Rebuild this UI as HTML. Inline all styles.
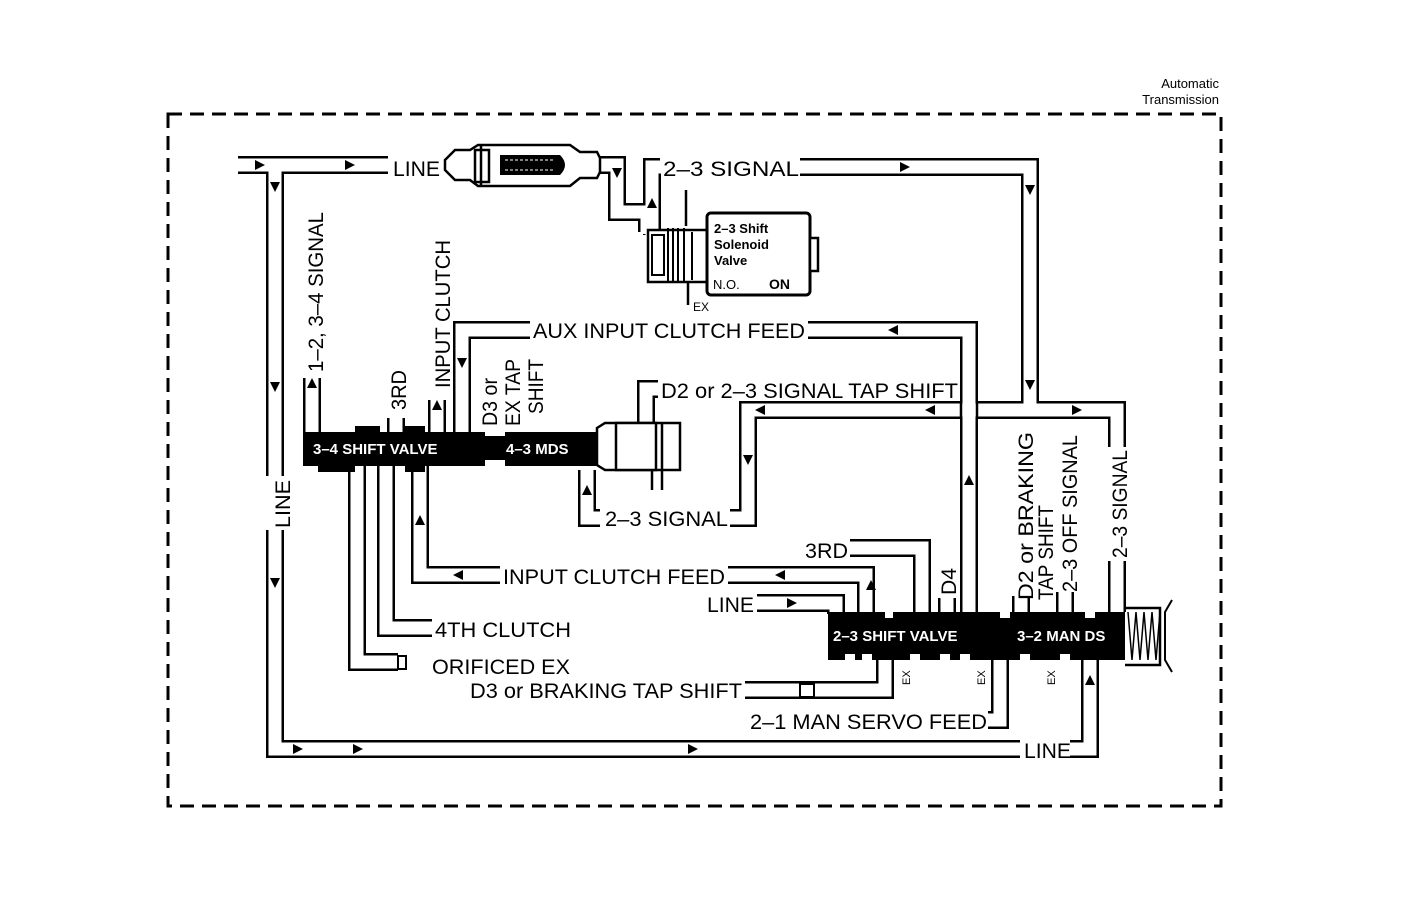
<!DOCTYPE html>
<html><head><meta charset="utf-8"><style>
html,body{margin:0;padding:0;background:#fff;}
svg{display:block;}
text{font-family:"Liberation Sans",Arial,sans-serif;fill:#000;}
.l{font-size:21px;}
.w{fill:#fff;font-weight:bold;font-size:15px;}
</style></head><body>
<svg width="1408" height="920" viewBox="0 0 1408 920" xmlns="http://www.w3.org/2000/svg">
<rect width="1408" height="920" fill="#fff"/>
<rect x="168" y="114" width="1053" height="692" fill="none" stroke="#000" stroke-width="3" stroke-dasharray="14 8"/>
<text x="1219" y="88" font-size="13" text-anchor="end">Automatic</text>
<text x="1219" y="104" font-size="13" text-anchor="end">Transmission</text>

<g fill="none" stroke="#000" stroke-width="18" stroke-linejoin="miter" stroke-linecap="butt">
<path d="M238,165 H388"/>
<path d="M275,165 V749 H1020"/>
<path d="M1070,749 H1090 V660"/>
<path d="M598,165 H617 V212 H647 V232"/>
<path d="M652,235 V167 H660"/>
<path d="M800,167 H1030 V410 H1117 V612"/>
<path d="M1030,410 H748 V518 H730"/>
<path d="M600,518 H587 V470"/>
<path d="M808,330 H969 V612"/>
<path d="M530,330 H462 V432"/>
<path d="M658,389 H646 V424"/>
<path d="M312,378 V432"/>
<path d="M437,400 V432"/>
<path d="M396,418 V432"/>
<path d="M357,466 V662 H398"/>
<path d="M386,466 V628 H432"/>
<path d="M420,466 V575 H500"/>
<path d="M728,575 H866 V612"/>
<path d="M850,548 H922 V612"/>
<path d="M757,603 H836 V614"/>
<path d="M947,598 V612"/>
<path d="M1021,596 V612"/>
<path d="M1065,592 V612"/>
<path d="M745,690 H885 V660"/>
<path d="M988,720 H1000 V660"/>
</g>
<g fill="none" stroke="#fff" stroke-width="13" stroke-linejoin="miter" stroke-linecap="butt">
<path d="M236,165 H390"/>
<path d="M275,165 V749 H1022"/>
<path d="M1068,749 H1090 V658"/>
<path d="M596,165 H617 V212 H647 V234"/>
<path d="M652,237 V167 H662"/>
<path d="M798,167 H1030 V410 H1117 V614"/>
<path d="M1030,410 H748 V518 H728"/>
<path d="M602,518 H587 V468"/>
<path d="M806,330 H969 V614"/>
<path d="M532,330 H462 V434"/>
<path d="M660,389 H646 V426"/>
<path d="M312,376 V434"/>
<path d="M437,398 V434"/>
<path d="M396,416 V434"/>
<path d="M357,464 V662 H400"/>
<path d="M386,464 V628 H434"/>
<path d="M420,464 V575 H502"/>
<path d="M726,575 H866 V614"/>
<path d="M848,548 H922 V614"/>
<path d="M755,603 H836 V616"/>
<path d="M947,596 V614"/>
<path d="M1021,594 V614"/>
<path d="M1065,590 V614"/>
<path d="M743,690 H885 V658"/>
<path d="M986,720 H1000 V658"/>
</g>
<line x1="961" y1="401" x2="961" y2="419" stroke="#000" stroke-width="2.5"/>
<line x1="977" y1="401" x2="977" y2="419" stroke="#000" stroke-width="2.5"/>

<path d="M445,160 L455,150 L470,150 L478,145 L570,145 L580,152 L597,152 L600,158 V172 L597,178 L580,178 L570,186 L478,186 L470,180 L455,180 L445,170 Z" fill="#fff" stroke="#000" stroke-width="2.5"/>
<rect x="475" y="150" width="14" height="32" fill="#fff" stroke="#000" stroke-width="2.5"/>
<line x1="481" y1="145" x2="481" y2="186" stroke="#000" stroke-width="2.5"/>
<path d="M500,155 H560 Q570,165 560,175 H500 Z" fill="#000"/>
<line x1="505" y1="160" x2="555" y2="160" stroke="#fff" stroke-dasharray="3 2"/>
<line x1="505" y1="170" x2="555" y2="170" stroke="#fff" stroke-dasharray="3 2"/>

<rect x="648" y="230" width="59" height="52" fill="#fff" stroke="#000" stroke-width="2.5"/>
<rect x="652" y="235" width="12" height="40" fill="#fff" stroke="#000" stroke-width="2"/>
<g stroke="#000" stroke-width="2"><line x1="668" y1="228" x2="668" y2="282"/><line x1="673" y1="228" x2="673" y2="282"/><line x1="678" y1="228" x2="678" y2="282"/><line x1="684" y1="228" x2="684" y2="282"/><line x1="692" y1="232" x2="692" y2="280"/></g>
<line x1="686" y1="190" x2="686" y2="226" stroke="#000" stroke-width="2.5"/>
<line x1="688" y1="282" x2="688" y2="305" stroke="#000" stroke-width="2.5"/>
<text x="693" y="311" font-size="12">EX</text>
<rect x="707" y="213" width="103" height="82" rx="4" fill="#fff" stroke="#000" stroke-width="3"/>
<rect x="810" y="238" width="8" height="33" fill="#fff" stroke="#000" stroke-width="2.5"/>
<text x="714" y="233" font-size="13" font-weight="bold">2–3 Shift</text>
<text x="714" y="249" font-size="13" font-weight="bold">Solenoid</text>
<text x="714" y="265" font-size="13" font-weight="bold">Valve</text>
<text x="713" y="289" font-size="13">N.O.</text>
<text x="769" y="289" font-size="14" font-weight="bold">ON</text>

<path d="M303,432 H355 V426 H380 V432 H405 V426 H425 V432 H600 V466 H425 V472 H405 V466 H355 V472 H318 V466 H303 Z" fill="#000"/>
<rect x="485" y="430" width="20" height="6" fill="#fff"/>
<rect x="485" y="460" width="20" height="6" fill="#fff"/>
<text x="313" y="454" class="w">3–4 SHIFT VALVE</text>
<text x="506" y="454" class="w">4–3 MDS</text>
<path d="M597,428 L605,423 H680 V470 H605 L597,465 Z" fill="#fff" stroke="#000" stroke-width="2.5"/>
<rect x="616" y="423" width="40" height="47" fill="#fff" stroke="#000" stroke-width="2.5"/>
<line x1="662" y1="423" x2="662" y2="470" stroke="#000" stroke-width="2.5"/>
<line x1="652" y1="470" x2="652" y2="490" stroke="#000" stroke-width="2.5"/>
<line x1="662" y1="470" x2="662" y2="490" stroke="#000" stroke-width="2.5"/>

<path d="M828,612 H1125 V660 H828 Z" fill="#000"/>
<g fill="#fff"><rect x="845" y="654" width="10" height="8"/><rect x="862" y="654" width="10" height="8"/><rect x="910" y="654" width="10" height="8"/><rect x="940" y="654" width="10" height="8"/><rect x="960" y="654" width="10" height="8"/><rect x="1020" y="654" width="10" height="8"/><rect x="1060" y="654" width="10" height="8"/><rect x="885" y="612" width="8" height="6"/><rect x="1000" y="612" width="10" height="6"/><rect x="1085" y="612" width="10" height="6"/></g>
<text x="833" y="641" class="w">2–3 SHIFT VALVE</text>
<text x="1017" y="641" class="w">3–2 MAN DS</text>
<path d="M1125,608 H1160 V665 H1125" fill="none" stroke="#000" stroke-width="2.5"/>
<path d="M1128,612 l4,48 l4,-48 l4,48 l4,-48 l4,48 l4,-48 l4,48 l4,-48" fill="none" stroke="#000" stroke-width="1.5"/>
<path d="M1172,600 L1165,612 V660 L1172,672" fill="none" stroke="#000" stroke-width="2"/>
<g font-size="11"><text transform="translate(910,685) rotate(-90)">EX</text><text transform="translate(985,685) rotate(-90)">EX</text><text transform="translate(1055,685) rotate(-90)">EX</text></g>

<rect x="398" y="656" width="8" height="13" fill="#fff" stroke="#000" stroke-width="2"/>
<rect x="800" y="684" width="14" height="13" fill="#fff" stroke="#000" stroke-width="2"/>

<g fill="#000">
<path d="M255,160 l10,5 l-10,5 z"/><path d="M345,160 l10,5 l-10,5 z"/>
<path d="M270,182 l5,10 l5,-10 z"/><path d="M270,382 l5,10 l5,-10 z"/><path d="M270,578 l5,10 l5,-10 z"/>
<path d="M293,744 l10,5 l-10,5 z"/><path d="M353,744 l10,5 l-10,5 z"/><path d="M688,744 l10,5 l-10,5 z"/>
<path d="M612,168 l5,10 l5,-10 z"/><path d="M647,208 l5,-10 l5,10 z"/>
<path d="M900,162 l10,5 l-10,5 z"/><path d="M1025,185 l5,10 l5,-10 z"/><path d="M1025,380 l5,10 l5,-10 z"/>
<path d="M1072,405 l10,5 l-10,5 z"/><path d="M935,405 l-10,5 l10,5 z"/><path d="M765,405 l-10,5 l10,5 z"/>
<path d="M743,455 l5,10 l5,-10 z"/><path d="M582,495 l5,-10 l5,10 z"/>
<path d="M898,325 l-10,5 l10,5 z"/><path d="M964,485 l5,-10 l5,10 z"/>
<path d="M457,358 l5,10 l5,-10 z"/><path d="M307,388 l5,-10 l5,10 z"/><path d="M432,410 l5,-10 l5,10 z"/>
<path d="M415,525 l5,-10 l5,10 z"/><path d="M463,570 l-10,5 l10,5 z"/>
<path d="M785,570 l-10,5 l10,5 z"/><path d="M866,590 l5,-10 l5,10 z"/><path d="M787,598 l10,5 l-10,5 z"/>
<path d="M1085,685 l5,-10 l5,10 z"/>
</g>

<rect x="266" y="476" width="20" height="54" fill="#fff"/>
<rect x="1108" y="447" width="20" height="114" fill="#fff"/>

<g class="l">
<text x="393" y="176" class="l" textLength="47" lengthAdjust="spacingAndGlyphs">LINE</text>
<text x="663" y="176" class="l" textLength="136" lengthAdjust="spacingAndGlyphs">2–3 SIGNAL</text>
<text x="533" y="338" class="l" textLength="272" lengthAdjust="spacingAndGlyphs">AUX INPUT CLUTCH FEED</text>
<text x="661" y="398" class="l" textLength="297" lengthAdjust="spacingAndGlyphs">D2 or 2–3 SIGNAL TAP SHIFT</text>
<text x="605" y="526" class="l" textLength="123" lengthAdjust="spacingAndGlyphs">2–3 SIGNAL</text>
<text x="503" y="584" class="l" textLength="222" lengthAdjust="spacingAndGlyphs">INPUT CLUTCH FEED</text>
<text x="805" y="558" class="l" textLength="43" lengthAdjust="spacingAndGlyphs">3RD</text>
<text x="707" y="612" class="l" textLength="47" lengthAdjust="spacingAndGlyphs">LINE</text>
<text x="435" y="637" class="l" textLength="136" lengthAdjust="spacingAndGlyphs">4TH CLUTCH</text>
<text x="432" y="674" class="l" textLength="138" lengthAdjust="spacingAndGlyphs">ORIFICED EX</text>
<text x="470" y="698" class="l" textLength="272" lengthAdjust="spacingAndGlyphs">D3 or BRAKING TAP SHIFT</text>
<text x="750" y="729" class="l" textLength="237" lengthAdjust="spacingAndGlyphs">2–1 MAN SERVO FEED</text>
<text x="1024" y="758" class="l" textLength="47" lengthAdjust="spacingAndGlyphs">LINE</text>
<text class="l" transform="translate(290,528) rotate(-90)" textLength="48" lengthAdjust="spacingAndGlyphs">LINE</text>
<text class="l" transform="translate(323,372) rotate(-90)" textLength="160" lengthAdjust="spacingAndGlyphs">1–2, 3–4 SIGNAL</text>
<text class="l" transform="translate(450,388) rotate(-90)" textLength="148" lengthAdjust="spacingAndGlyphs">INPUT CLUTCH</text>
<text class="l" transform="translate(406,410) rotate(-90)" textLength="40" lengthAdjust="spacingAndGlyphs">3RD</text>
<text class="l" transform="translate(497,426) rotate(-90)" textLength="48" lengthAdjust="spacingAndGlyphs">D3 or</text>
<text class="l" transform="translate(520,426) rotate(-90)" textLength="67" lengthAdjust="spacingAndGlyphs">EX TAP</text>
<text class="l" transform="translate(543,414) rotate(-90)" textLength="55" lengthAdjust="spacingAndGlyphs">SHIFT</text>
<text class="l" transform="translate(956,595) rotate(-90)" textLength="27" lengthAdjust="spacingAndGlyphs">D4</text>
<text class="l" transform="translate(1033,600) rotate(-90)" textLength="168" lengthAdjust="spacingAndGlyphs">D2 or BRAKING</text>
<text class="l" transform="translate(1053,600) rotate(-90)" textLength="95" lengthAdjust="spacingAndGlyphs">TAP SHIFT</text>
<text class="l" transform="translate(1077,592) rotate(-90)" textLength="157" lengthAdjust="spacingAndGlyphs">2–3 OFF SIGNAL</text>
<text class="l" transform="translate(1127,558) rotate(-90)" textLength="108" lengthAdjust="spacingAndGlyphs">2–3 SIGNAL</text>
</g>
</svg>
</body></html>
